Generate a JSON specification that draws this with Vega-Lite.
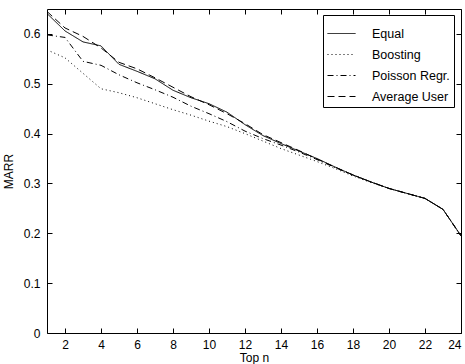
{
  "$schema": "https://vega.github.io/schema/vega-lite/v6.json",
  "width": 414,
  "height": 324,
  "autosize": "none",
  "padding": {"left": 47, "top": 9, "right": 4, "bottom": 31},
  "background": "white",
  "config": {
    "view": {"stroke": "black", "strokeWidth": 1},
    "font": "Liberation Sans",
    "axis": {"grid": false, "domain": false, "tickColor": "black", "labelColor": "black", "titleColor": "black", "labelFont": "Liberation Sans", "titleFont": "Liberation Sans", "labelFontSize": 12, "titleFontSize": 12, "titleFontWeight": "normal", "tickSize": 5, "offset": -5}
  },
  "data": {"values": [
    {"n":1,"series":"Equal","marr":0.641},{"n":2,"series":"Equal","marr":0.606},{"n":3,"series":"Equal","marr":0.584},{"n":4,"series":"Equal","marr":0.576},{"n":5,"series":"Equal","marr":0.539},{"n":6,"series":"Equal","marr":0.525},{"n":7,"series":"Equal","marr":0.51},{"n":8,"series":"Equal","marr":0.487},{"n":9,"series":"Equal","marr":0.472},{"n":10,"series":"Equal","marr":0.46},{"n":11,"series":"Equal","marr":0.443},{"n":12,"series":"Equal","marr":0.418},{"n":13,"series":"Equal","marr":0.396},{"n":14,"series":"Equal","marr":0.38},{"n":15,"series":"Equal","marr":0.365},{"n":16,"series":"Equal","marr":0.35},{"n":17,"series":"Equal","marr":0.333},{"n":18,"series":"Equal","marr":0.317},{"n":19,"series":"Equal","marr":0.303},{"n":20,"series":"Equal","marr":0.29},{"n":21,"series":"Equal","marr":0.28},{"n":22,"series":"Equal","marr":0.27},{"n":23,"series":"Equal","marr":0.248},{"n":24,"series":"Equal","marr":0.195},
    {"n":1,"series":"Boosting","marr":0.568},{"n":2,"series":"Boosting","marr":0.552},{"n":3,"series":"Boosting","marr":0.521},{"n":4,"series":"Boosting","marr":0.49},{"n":5,"series":"Boosting","marr":0.482},{"n":6,"series":"Boosting","marr":0.472},{"n":7,"series":"Boosting","marr":0.46},{"n":8,"series":"Boosting","marr":0.448},{"n":9,"series":"Boosting","marr":0.437},{"n":10,"series":"Boosting","marr":0.425},{"n":11,"series":"Boosting","marr":0.414},{"n":12,"series":"Boosting","marr":0.4},{"n":13,"series":"Boosting","marr":0.385},{"n":14,"series":"Boosting","marr":0.37},{"n":15,"series":"Boosting","marr":0.357},{"n":16,"series":"Boosting","marr":0.344},{"n":17,"series":"Boosting","marr":0.33},{"n":18,"series":"Boosting","marr":0.315},{"n":19,"series":"Boosting","marr":0.302},{"n":20,"series":"Boosting","marr":0.29},{"n":21,"series":"Boosting","marr":0.28},{"n":22,"series":"Boosting","marr":0.27},{"n":23,"series":"Boosting","marr":0.248},{"n":24,"series":"Boosting","marr":0.195},
    {"n":1,"series":"Poisson Regr.","marr":0.598},{"n":2,"series":"Poisson Regr.","marr":0.593},{"n":3,"series":"Poisson Regr.","marr":0.545},{"n":4,"series":"Poisson Regr.","marr":0.537},{"n":5,"series":"Poisson Regr.","marr":0.518},{"n":6,"series":"Poisson Regr.","marr":0.502},{"n":7,"series":"Poisson Regr.","marr":0.488},{"n":8,"series":"Poisson Regr.","marr":0.473},{"n":9,"series":"Poisson Regr.","marr":0.455},{"n":10,"series":"Poisson Regr.","marr":0.44},{"n":11,"series":"Poisson Regr.","marr":0.424},{"n":12,"series":"Poisson Regr.","marr":0.405},{"n":13,"series":"Poisson Regr.","marr":0.39},{"n":14,"series":"Poisson Regr.","marr":0.377},{"n":15,"series":"Poisson Regr.","marr":0.363},{"n":16,"series":"Poisson Regr.","marr":0.348},{"n":17,"series":"Poisson Regr.","marr":0.332},{"n":18,"series":"Poisson Regr.","marr":0.317},{"n":19,"series":"Poisson Regr.","marr":0.303},{"n":20,"series":"Poisson Regr.","marr":0.29},{"n":21,"series":"Poisson Regr.","marr":0.28},{"n":22,"series":"Poisson Regr.","marr":0.27},{"n":23,"series":"Poisson Regr.","marr":0.248},{"n":24,"series":"Poisson Regr.","marr":0.195},
    {"n":1,"series":"Average User","marr":0.645},{"n":2,"series":"Average User","marr":0.612},{"n":3,"series":"Average User","marr":0.595},{"n":4,"series":"Average User","marr":0.572},{"n":5,"series":"Average User","marr":0.543},{"n":6,"series":"Average User","marr":0.53},{"n":7,"series":"Average User","marr":0.512},{"n":8,"series":"Average User","marr":0.493},{"n":9,"series":"Average User","marr":0.474},{"n":10,"series":"Average User","marr":0.458},{"n":11,"series":"Average User","marr":0.44},{"n":12,"series":"Average User","marr":0.42},{"n":13,"series":"Average User","marr":0.398},{"n":14,"series":"Average User","marr":0.382},{"n":15,"series":"Average User","marr":0.366},{"n":16,"series":"Average User","marr":0.349},{"n":17,"series":"Average User","marr":0.333},{"n":18,"series":"Average User","marr":0.317},{"n":19,"series":"Average User","marr":0.303},{"n":20,"series":"Average User","marr":0.29},{"n":21,"series":"Average User","marr":0.28},{"n":22,"series":"Average User","marr":0.27},{"n":23,"series":"Average User","marr":0.248},{"n":24,"series":"Average User","marr":0.195}
  ]},
  "layer": [
    {
      "mark": {"type": "line", "strokeWidth": 1, "color": "black", "clip": true},
      "encoding": {
        "x": {"field": "n", "type": "quantitative", "scale": {"domain": [1, 24], "nice": false, "zero": false},
          "axis": {"orient": "bottom", "title": "Top n", "values": [2,4,6,8,10,12,14,16,18,20,22,24], "labelPadding": 6, "titlePadding": 2}},
        "y": {"field": "marr", "type": "quantitative", "scale": {"domain": [0, 0.65], "nice": false},
          "axis": {"orient": "left", "title": "MARR", "values": [0,0.1,0.2,0.3,0.4,0.5,0.6], "format": "~g", "labelPadding": 7, "titlePadding": 8}},
        "strokeDash": {"field": "series", "type": "nominal", "sort": ["Equal","Boosting","Poisson Regr.","Average User"],
          "scale": {"domain": ["Equal","Boosting","Poisson Regr.","Average User"], "range": [[1,0],[1,3],[6,3,1,3],[7,4]]},
          "legend": {"title": null, "orient": "none", "legendX": 276, "legendY": 6, "strokeColor": "black", "fillColor": "white", "padding": 4, "symbolType": "stroke", "symbolSize": 784, "symbolStrokeColor": "black", "symbolStrokeWidth": 1, "labelFontSize": 12.5, "labelFont": "Liberation Sans", "labelColor": "black", "rowPadding": 0, "labelOffset": 16, "cornerRadius": 0}}
      }
    },
    {
      "mark": {"type": "line", "opacity": 0},
      "encoding": {
        "x": {"field": "n", "type": "quantitative", "axis": {"orient": "top", "title": null, "labels": false, "values": [2,4,6,8,10,12,14,16,18,20,22,24]}},
        "y": {"field": "marr", "type": "quantitative", "axis": {"orient": "right", "title": null, "labels": false, "values": [0,0.1,0.2,0.3,0.4,0.5,0.6]}}
      }
    }
  ]
}
